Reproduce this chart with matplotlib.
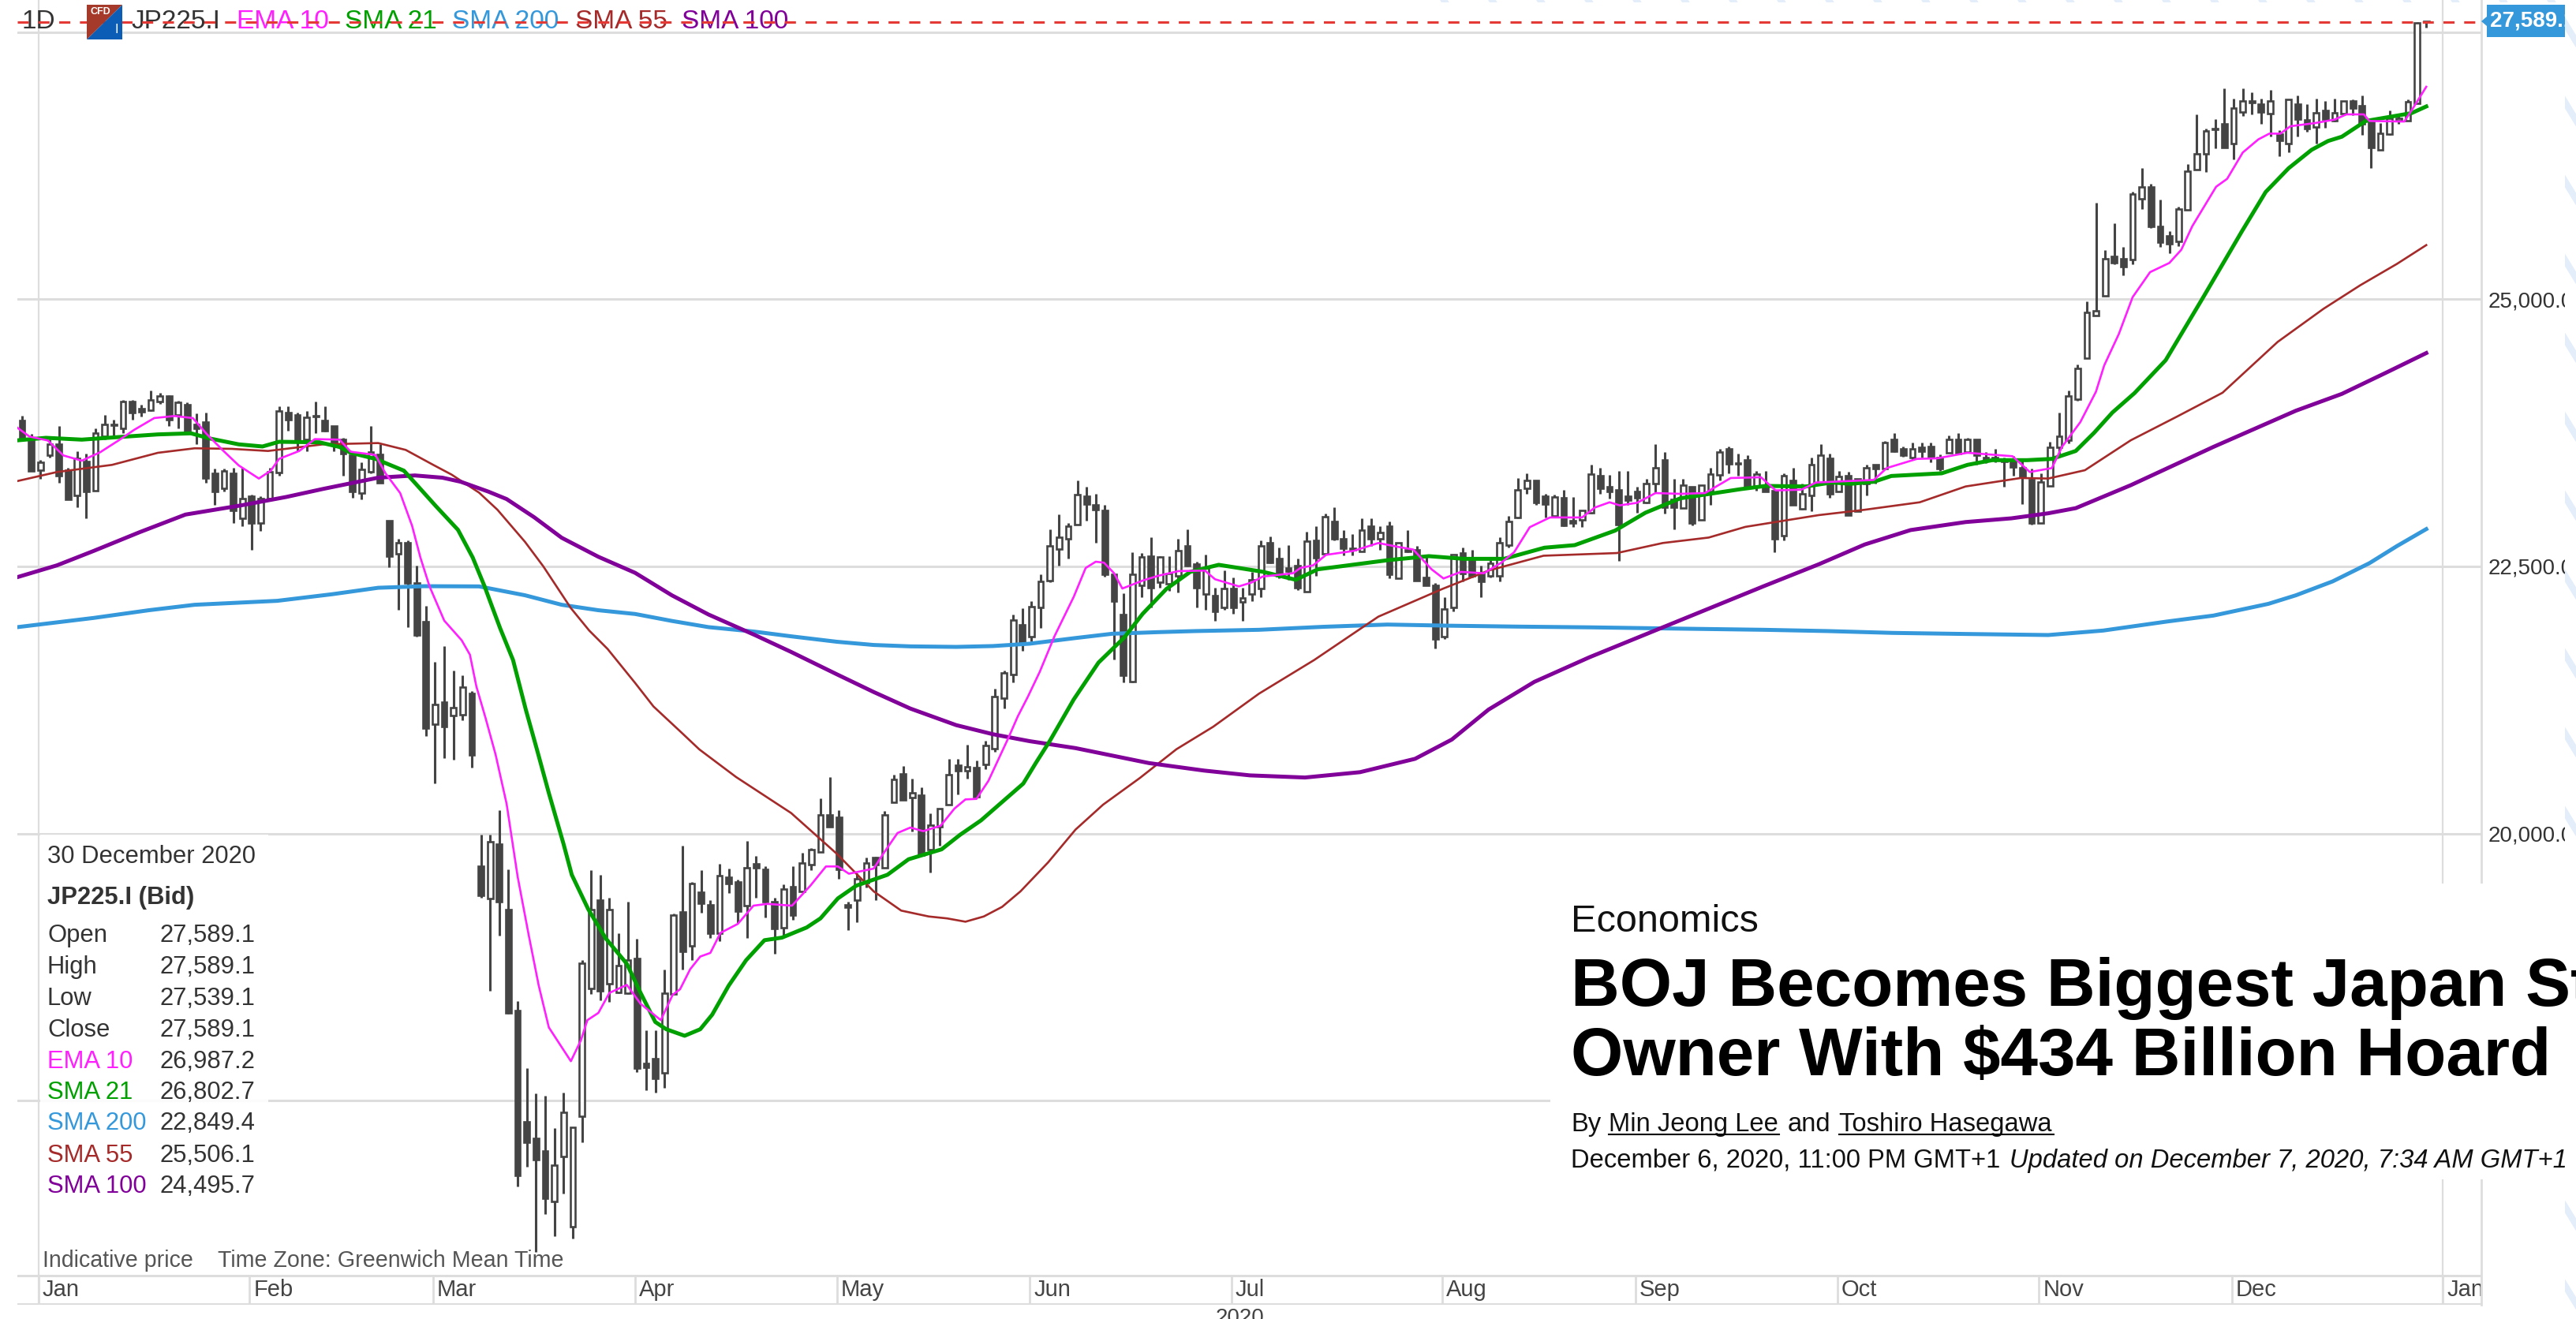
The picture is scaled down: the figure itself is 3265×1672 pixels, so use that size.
import matplotlib
matplotlib.use('Agg')
import matplotlib.pyplot as plt
from matplotlib.patches import Rectangle, Polygon
from matplotlib.transforms import ScaledTranslation

# candles run from 30 Dec 2019 (index -2) to 30 Dec 2020 (index 260), one per weekday
opens = [
    23868, 23691, 23400, 23538, 23642, 23400, 23162, 23482, 23211, 23715,
    23819, 23794, 24040, 23974, 23961, 24040, 24097, 23917, 24016, 23826,
    23851, 23371, 23228, 23371, 22953, 23155, 22909, 23137, 23376, 23937,
    23917, 23686, 23902, 23868, 23814, 23691, 23543, 23186, 23383, 23548,
    22928, 22621, 22719, 22343, 21981, 21022, 21231, 21108, 21113, 21310,
    19693, 19394, 19904, 19292, 18347, 17303, 17150, 17031, 16562, 16980,
    16324, 17354, 18551, 19377, 18595, 18517, 18510, 18833, 17847, 17891,
    17762, 18503, 19265, 18952, 19455, 19333, 19071, 19591, 19547, 19326,
    19717, 19666, 19360, 19122, 19503, 19462, 19707, 19829, 20176, 20156,
    19336, 19377, 19537, 19775, 19683, 20295, 20557, 20339, 20363, 19853,
    20062, 20271, 20640, 20586, 20616, 20645, 20793, 21268, 21489, 21957,
    21841, 22116, 22367, 22663, 22761, 22891, 23155, 23076, 23027, 22424,
    22047, 21420, 22326, 22596, 22350, 22338, 22412, 22695, 22522, 22239,
    22227, 22116, 22296, 22166, 22244, 22290, 22719, 22571, 22485, 22505,
    22264, 22744, 22621, 22923, 22756, 22670, 22638, 22879, 22761, 22879,
    22392, 22658, 22653, 22399, 22325, 21841, 22116, 22628, 22554, 22436,
    22412, 22412, 22702, 22958, 23228, 23302, 23154, 22972, 23142, 22928,
    22933, 23002, 23346, 23243, 23218, 23154, 23199, 23095, 23273, 23494,
    23125, 23046, 23243, 22933, 23199, 23359, 23597, 23469, 23494, 23248,
    23248, 23211, 22785, 23302, 23039, 23162, 23285, 23514, 23204, 23346,
    23014, 23273, 23450, 23415, 23686, 23597, 23519, 23617, 23622, 23519,
    23563, 23686, 23573, 23686, 23519, 23499, 23506, 23506, 23425, 23309,
    22908, 23253, 23617, 23679, 24065, 24448, 24847, 25032, 25400, 25376,
    25369, 25942, 26052, 25678, 25590, 25541, 25836, 26212, 26360, 26589,
    26638, 26458, 26753, 26840, 26827, 26736, 26544, 26458, 26827, 26680,
    26613, 26766, 26672, 26736, 26852, 26808, 26662, 26397, 26544, 26667,
    26672, 26835, 27589,
]
highs = [
    23912, 23740, 23494, 23691, 23814, 23425, 23578, 23553, 23789, 23917,
    23875, 24060, 24055, 24011, 24146, 24126, 24102, 24048, 24035, 23932,
    23937, 23415, 23415, 23420, 23420, 23174, 23155, 23425, 23998, 23998,
    23937, 23956, 24040, 23998, 23814, 23703, 23556, 23474, 23814, 23646,
    22928, 22756, 22744, 22510, 22129, 21605, 21752, 21526, 21482, 21334,
    19989, 19989, 20217, 19666, 18435, 17803, 17572, 17551, 17245, 17575,
    17252, 18816, 19659, 19615, 19401, 19071, 19360, 19020, 18163, 18163,
    18731, 19251, 19887, 19547, 19659, 19377, 19717, 19673, 19571, 19928,
    19795, 19693, 19401, 19523, 19693, 19819, 19863, 20329, 20533, 20217,
    19360, 19632, 19775, 19785, 20210, 20550, 20635, 20517, 20431, 20193,
    20237, 20702, 20702, 20830, 20682, 20867, 21354, 21526, 22048, 22109,
    22178, 22424, 22847, 22990, 22904, 23302, 23243, 23179, 23076, 22424,
    22252, 22633, 22628, 22776, 22596, 22596, 22756, 22847, 22547, 22608,
    22301, 22466, 22399, 22301, 22448, 22744, 22781, 22677, 22702, 22571,
    22825, 22879, 22997, 23051, 22842, 22800, 22948, 22948, 22874, 22923,
    22719, 22842, 22695, 22608, 22343, 22210, 22608, 22675, 22658, 22510,
    22559, 22776, 22972, 23327, 23371, 23302, 23179, 23174, 23218, 23150,
    23027, 23450, 23425, 23359, 23391, 23391, 23243, 23317, 23642, 23573,
    23322, 23322, 23248, 23260, 23425, 23597, 23622, 23555, 23538, 23396,
    23391, 23211, 23371, 23425, 23277, 23519, 23642, 23555, 23391, 23383,
    23322, 23450, 23450, 23671, 23745, 23622, 23661, 23661, 23661, 23548,
    23728, 23745, 23703, 23691, 23568, 23597, 23519, 23531, 23490, 23415,
    23371, 23666, 23937, 24146, 24392, 24982, 25905, 25462, 25713, 25487,
    26008, 26225, 26077, 25929, 25634, 25868, 26261, 26729, 26598, 26685,
    26975, 26877, 26975, 26933, 26877, 26955, 26581, 26869, 26908, 26827,
    26877, 26852, 26877, 26852, 26869, 26908, 26680, 26648, 26766, 26722,
    26869, 27590, 27589,
]
lows = [
    23691, 23396, 23322, 23519, 23285, 23125, 23056, 22953, 23211, 23691,
    23728, 23745, 23875, 23900, 23956, 24023, 23814, 23794, 23740, 23646,
    23285, 23076, 23199, 22909, 22874, 22658, 22830, 23130, 23351, 23770,
    23580, 23580, 23745, 23760, 23580, 23351, 23145, 23125, 23371, 23285,
    22490, 22092, 21932, 21841, 20916, 20473, 20709, 20690, 21063, 20621,
    19401, 18527, 19047, 18316, 16701, 16885, 16089, 16443, 16232, 16633,
    16215, 17116, 18503, 18442, 18425, 18510, 18500, 17769, 17599, 17575,
    17619, 18503, 18731, 18816, 19258, 19027, 18993, 19445, 19163, 19027,
    19401, 19217, 18877, 19037, 19197, 19455, 19659, 19829, 20067, 19581,
    19095, 19173, 19496, 19377, 19683, 20295, 20312, 20023, 19802, 19639,
    19890, 20271, 20370, 20517, 20345, 20603, 20768, 21169, 21415, 21710,
    21802, 21925, 22350, 22510, 22576, 22891, 22928, 22724, 22407, 21629,
    21415, 21415, 22215, 22116, 22301, 22270, 22259, 22498, 22116, 22092,
    21988, 22092, 22055, 21988, 22178, 22215, 22530, 22387, 22375, 22276,
    22264, 22412, 22621, 22744, 22603, 22603, 22638, 22695, 22658, 22387,
    22392, 22633, 22367, 22325, 21735, 21821, 22079, 22362, 22399, 22215,
    22399, 22362, 22677, 22953, 23179, 23076, 22958, 22958, 22874, 22867,
    22867, 22997, 23179, 23137, 22554, 23076, 23002, 23088, 23194, 22997,
    22849, 23046, 22884, 22933, 23076, 23302, 23371, 23351, 23243, 23211,
    23204, 22633, 22744, 23076, 23032, 23014, 23285, 23145, 23204, 22977,
    23014, 23162, 23273, 23415, 23573, 23524, 23499, 23519, 23474, 23396,
    23563, 23548, 23563, 23450, 23464, 23474, 23248, 23346, 23081, 22891,
    22908, 23253, 23543, 23650, 24050, 24448, 24847, 25032, 25327, 25221,
    25327, 25843, 25664, 25492, 25433, 25499, 25836, 26212, 26188, 26409,
    26417, 26311, 26712, 26729, 26643, 26520, 26335, 26372, 26520, 26569,
    26458, 26606, 26662, 26722, 26722, 26540, 26230, 26397, 26540, 26643,
    26667, 26835, 27539,
]
closes = [
    23691, 23396, 23474, 23642, 23351, 23125, 23514, 23204, 23745, 23826,
    23831, 24040, 23942, 23949, 24060, 24097, 23875, 24035, 23765, 23794,
    23327, 23204, 23391, 23022, 23137, 22909, 23137, 23383, 23956, 23875,
    23666, 23893, 23912, 23770, 23642, 23556, 23204, 23408, 23568, 23285,
    22596, 22719, 22343, 21858, 20985, 21206, 21004, 21182, 21373, 20734,
    19421, 19921, 19367, 18323, 16803, 17116, 16953, 16589, 16895, 17395,
    17252, 18789, 19292, 18527, 19292, 18765, 18816, 17803, 17813, 17711,
    18510, 19241, 18901, 19530, 19350, 19071, 19608, 19530, 19275, 19683,
    19683, 19360, 19115, 19479, 19241, 19727, 19853, 20176, 20067, 19666,
    19309, 19581, 19727, 19707, 20176, 20509, 20312, 20380, 19802, 20081,
    20234, 20554, 20586, 20628, 20345, 20825, 21285, 21501, 21998, 21784,
    22126, 22357, 22695, 22776, 22879, 23174, 23081, 23032, 22424, 22178,
    21482, 22424, 22589, 22301, 22589, 22436, 22650, 22510, 22301, 22485,
    22080, 22294, 22116, 22202, 22375, 22695, 22535, 22412, 22456, 22301,
    22736, 22579, 22965, 22756, 22670, 22653, 22842, 22756, 22817, 22424,
    22719, 22638, 22367, 22325, 21821, 22104, 22608, 22436, 22412, 22362,
    22530, 22719, 22923, 23218, 23302, 23100, 23081, 23150, 22884, 22909,
    23022, 23366, 23228, 23204, 22891, 23120, 23145, 23277, 23425, 23051,
    23056, 23260, 22908, 23260, 23366, 23573, 23457, 23457, 23243, 23366,
    23204, 22761, 23346, 23076, 23179, 23450, 23538, 23179, 23341, 22982,
    23322, 23425, 23415, 23661, 23580, 23538, 23597, 23580, 23519, 23415,
    23686, 23555, 23686, 23538, 23494, 23519, 23482, 23432, 23334, 22908,
    23292, 23617, 23715, 24097, 24355, 24877, 24891, 25376, 25344, 25302,
    25986, 26048, 25683, 25536, 25516, 25843, 26200, 26360, 26574, 26599,
    26417, 26786, 26852, 26852, 26753, 26852, 26483, 26869, 26687, 26594,
    26741, 26687, 26746, 26852, 26790, 26643, 26417, 26549, 26692, 26692,
    26844, 27583, 27589,
]

# moving averages, (index, price) at the places where they bend
ema10_x = [-2.5, -1, 1, 2.7, 4.7, 6.7, 8.7, 10.4, 12.6, 14.8, 16.8, 18.3, 20, 21.8, 24, 25.3, 26.2, 28.4, 30.1, 32.8,
           34, 36.7, 37.8, 39.4, 40.7, 41.6, 42.6, 44.2, 46.1, 47, 47.7, 48.7, 49.8, 51, 52.2, 53.4, 54.5, 55.6, 58, 59.1,
           59.8, 61, 62.2, 64.1, 65.6, 67.8, 69.1, 69.9, 71, 72.1, 73.2, 74.3, 76.2, 77.9, 79.4, 82.1, 84.1, 85.8, 87.1, 88.3,
           91, 92.1, 93.6, 95, 96.4, 98.3, 99.8, 101, 102.2, 103.5, 104.7, 105.7, 106.7, 107.8, 109.1, 110.7, 112.8, 114.1, 115.2, 116.1,
           117.2, 118.1, 120.3, 122, 124.2, 127.1, 128.2, 130.8, 132.2, 133.4, 136.7, 137.5, 138.9, 140.3, 143.3, 146, 148.2, 149.8, 151.8, 153.1,
           155, 157.5, 159.4, 160.8, 162.5, 164.7, 168.2, 169.6, 171.2, 172.3, 174.2, 176.2, 178.9, 181.6, 184.4, 187.7, 189.3, 192.1, 193.7, 200,
           201.4, 204.7, 206.9, 210.2, 215.1, 217, 219.4, 220.5, 222.5, 224.2, 225.1, 226.7, 228.2, 229.3, 230.1, 232.2, 233.5, 234.7, 236, 237.3,
           238.5, 240.2, 241.9, 243.1, 244.3, 245.4, 248.1, 250.2, 251.5, 253.4, 254, 257.8, 258.6, 260.2]
ema10_y = [23809, 23715, 23678, 23538, 23489, 23568, 23678, 23777, 23888, 23907, 23888, 23740, 23592, 23445, 23322, 23396, 23506, 23580, 23691, 23686,
           23573, 23543, 23371, 23186, 22879, 22584, 22313, 21993, 21809, 21674, 21378, 21083, 20739, 20278, 19598, 19054, 18578, 18187, 17871, 18068,
           18255, 18323, 18510, 18585, 18408, 18255, 18493, 18544, 18731, 18850, 18884, 19071, 19156, 19326, 19343, 19326, 19513, 19693, 19693, 19625,
           19673, 19819, 20006, 20057, 20023, 20074, 20234, 20320, 20325, 20493, 20714, 20899, 21096, 21280, 21514, 21846, 22215, 22485, 22544, 22535,
           22436, 22293, 22367, 22412, 22456, 22461, 22380, 22313, 22350, 22405, 22436, 22485, 22510, 22608, 22645, 22719, 22682, 22658, 22473, 22387,
           22449, 22436, 22535, 22633, 22867, 22958, 22958, 23051, 23100, 23071, 23095, 23186, 23179, 23186, 23327, 23334, 23211, 23218, 23285, 23309,
           23420, 23506, 23511, 23563, 23531, 23383, 23420, 23618, 23850, 24134, 24380, 24675, 25019, 25154, 25253, 25339, 25462, 25683, 25868, 26052,
           26126, 26372, 26495, 26549, 26549, 26618, 26648, 26680, 26729, 26729, 26667, 26662, 26766, 26987]

sma21_x = [-2.5, 0.8, 4.7, 8.7, 13, 16.6, 18.7, 21.8, 24.4, 26.2, 30.6, 32.8, 34, 36.7, 39.8, 41.1, 43.3, 45.7, 47.3, 48.6,
           49.3, 50.3, 51.7, 53.1, 54.3, 55.6, 57.2, 58.1, 59.9, 61.8, 64.1, 65.6, 67.2, 68.4, 70.4, 72.1, 73.4, 75.2, 77.1, 79.1,
           81, 83.7, 85.2, 87.1, 89.1, 92.5, 94.8, 98.4, 100.4, 102.7, 105, 107.3, 108.7, 110.2, 112.8, 115.5, 118.3, 120.3, 122.9, 125.5,
           128.6, 133.4, 137, 139.4, 147.1, 151.5, 155.3, 159.7, 164.1, 167.4, 171.8, 175.1, 178.9, 185.5, 188.2, 192.6, 195.4, 197.5, 200, 201.9,
           207.4, 210.2, 212.9, 216.7, 219.4, 222, 224, 226, 228.4, 231.8, 235.9, 240.1, 242.7, 245.2, 247.7, 249.5, 251, 253.6, 257, 258.6, 260.2]
sma21_y = [23678, 23703, 23686, 23710, 23735, 23745, 23696, 23642, 23622, 23666, 23661, 23617, 23563, 23506, 23396, 23273, 23063, 22842, 22584, 22313,
           22150, 21920, 21624, 21157, 20788, 20380, 19904, 19615, 19292, 19020, 18782, 18510, 18238, 18170, 18109, 18170, 18306, 18578, 18816, 19003,
           19027, 19122, 19207, 19394, 19513, 19615, 19760, 19853, 19988, 20124, 20296, 20468, 20665, 20868, 21255, 21600, 21834, 22055, 22289, 22449,
           22515, 22450, 22375, 22473, 22559, 22596, 22571, 22571, 22675, 22699, 22835, 23002, 23137, 23223, 23253, 23248, 23285, 23273, 23292, 23346,
           23371, 23450, 23494, 23494, 23506, 23580, 23750, 23940, 24121, 24429, 25019, 25634, 26003, 26225, 26397, 26480, 26520, 26667, 26717, 26741, 26803]

sma200_x = [-2.5, 6, 12, 17, 26, 32, 37, 42, 48, 53, 57, 61, 65, 69, 73, 78, 82, 87, 91, 95,
            100, 104, 108, 113, 117, 122, 126, 133, 140, 147, 154, 161, 169, 177, 188, 195, 202, 210, 219, 225,
            232, 237, 243, 246, 250, 254, 257, 260.2]
sma200_y = [21930, 22018, 22090, 22141, 22178, 22240, 22300, 22315, 22313, 22230, 22141, 22090, 22055, 21990, 21932, 21890, 21846, 21795, 21765, 21752,
            21747, 21755, 21777, 21830, 21870, 21885, 21895, 21907, 21935, 21956, 21945, 21937, 21930, 21920, 21907, 21895, 21878, 21868, 21858, 21900,
            21985, 22040, 22150, 22230, 22360, 22530, 22690, 22849]

sma55_x = [-2.5, 2, 8, 13, 17, 21, 25, 31, 37, 40, 43, 45, 48, 50, 53, 55, 58, 60, 62, 65,
           67, 70, 72, 76, 82, 87, 91, 94, 97, 99, 101, 103, 105, 107, 110, 113, 116, 120, 124, 128,
           133, 139, 146, 153, 158, 164, 172, 177, 182, 186, 194, 199, 205, 210, 216, 219, 223, 228, 233, 238,
           244, 249, 253, 257, 260.2]
sma55_y = [23295, 23383, 23450, 23563, 23605, 23600, 23580, 23642, 23654, 23590, 23450, 23359, 23190, 23030, 22730, 22500, 22110, 21900, 21728, 21410,
           21190, 20950, 20788, 20530, 20193, 19810, 19460, 19280, 19225, 19207, 19176, 19225, 19315, 19460, 19730, 20038, 20271, 20520, 20790, 21000,
           21310, 21624, 22030, 22290, 22461, 22600, 22625, 22719, 22770, 22870, 22980, 23030, 23100, 23248, 23327, 23322, 23400, 23680, 23900, 24125,
           24600, 24910, 25130, 25330, 25506]

sma100_x = [-2.5, 2, 6, 11, 16, 22, 27, 31, 37, 41, 44, 46, 49, 51, 54, 57, 61, 65, 69, 73,
            78, 82, 87, 91, 95, 100, 104, 108, 113, 121, 127, 132, 138, 144, 150, 154, 158, 163, 169, 173,
            177, 183, 188, 194, 199, 204, 210, 215, 219, 222, 228, 237, 246, 251, 256, 260.2]
sma100_y = [22395, 22510, 22645, 22820, 22985, 23070, 23150, 23225, 23330, 23351, 23330, 23292, 23200, 23130, 22960, 22768, 22590, 22440, 22230, 22050,
            21860, 21700, 21490, 21325, 21170, 21015, 20930, 20865, 20800, 20660, 20590, 20545, 20525, 20575, 20700, 20880, 21160, 21420, 21650, 21790,
            21930, 22140, 22315, 22520, 22705, 22840, 22915, 22950, 22997, 23045, 23260, 23618, 23957, 24114, 24320, 24496]

month_idx = [0, 23, 43, 65, 87, 108, 130, 153, 174, 196, 218, 239, 262]
month_labels = ['Jan', 'Feb', 'Mar', 'Apr', 'May', 'Jun', 'Jul', 'Aug', 'Sep', 'Oct', 'Nov', 'Dec', 'Jan']
price_ticks = [17500, 20000, 22500, 25000, 27500]
# the 17,500 and 27,500 labels are hidden behind the article and the price tag
price_labels = ['', '20,000.0', '22,500.0', '25,000.0', '']
last_price = 27589.1

panel_labels = ['Open', 'High', 'Low', 'Close', 'EMA 10', 'SMA 21', 'SMA 200', 'SMA 55', 'SMA 100']
panel_values = ['27,589.1', '27,589.1', '27,539.1', '27,589.1', '26,987.2', '26,802.7', '22,849.4', '25,506.1', '24,495.7']

C_EMA10 = '#FF1FFF'
C_SMA21 = '#00A000'
C_SMA200 = '#3498DB'
C_SMA55 = '#A52A2A'
C_SMA100 = '#800099'
C_CANDLE = '#444444'
C_GRID = '#DDDDDD'

W, H = 3265, 1672
plt.rcParams['font.family'] = ['Liberation Sans', 'DejaVu Sans']
fig = plt.figure(figsize=(W / 100, H / 100), dpi=100, facecolor='white')

# main chart, the band with the months sits inside the axes
ax = fig.add_axes([22 / W, 1 - 1654 / H, (3145 - 22) / W, 1654 / H])
ax.set_xlim(-2.32, 266.2)
ax.set_ylim(15592, 27799)
for s in ['top', 'left', 'bottom']:
    ax.spines[s].set_visible(False)
ax.spines['right'].set_color(C_GRID)
ax.spines['right'].set_linewidth(2)
ax.set_axisbelow(True)
ax.grid(axis='y', color=C_GRID, lw=2.2)
ax.yaxis.tick_right()
ax.set_yticks(price_ticks, price_labels)
ax.tick_params(axis='y', length=0, pad=6, labelsize=20, labelcolor='#333333')
ax.set_xticks(month_idx, month_labels, ha='left')
ax.tick_params(axis='x', length=0, pad=-24, labelsize=21, labelcolor='#444444')
for lab in ax.get_xticklabels():
    lab.set_transform(lab.get_transform() + ScaledTranslation(5 / 100, 0, fig.dpi_scale_trans))

# year line, month band and the two January lines
band_top = 22500 + (718 - 1617) * 7.38
ax.axhline(band_top, color=C_GRID, lw=2.2, zorder=1)
ax.axhline(15600, color=C_GRID, lw=2.2, zorder=1)
ax.vlines(month_idx, 15592, band_top, color=C_GRID, lw=2, zorder=1)
ax.axvline(0, color=C_GRID, lw=1.6, zorder=1)
ax.axvline(262, color=C_GRID, lw=1.6, zorder=1)

# candles, index offset is where the picture puts them against the grid
xs = [i - 2 + 0.2 for i in range(len(opens))]
ax.vlines(xs, lows, highs, color=C_CANDLE, lw=2.2, zorder=3)
for x, o, c in zip(xs, opens, closes):
    up = c >= o
    ax.bar(x, max(abs(c - o), 8), bottom=min(o, c), width=0.58,
           facecolor='white' if up else C_CANDLE, edgecolor=C_CANDLE, linewidth=1.9, zorder=4)

ax.plot(sma200_x, sma200_y, color=C_SMA200, lw=3.6, zorder=5)
ax.plot(sma55_x, sma55_y, color=C_SMA55, lw=1.9, zorder=5)
ax.plot(sma100_x, sma100_y, color=C_SMA100, lw=3.6, zorder=5)
ax.plot(sma21_x, sma21_y, color=C_SMA21, lw=3.6, zorder=6)
ax.plot(ema10_x, ema10_y, color=C_EMA10, lw=1.9, zorder=6)

# overlay in picture pixels for the panels stuck on top of the chart
ov = fig.add_axes([0, 0, 1, 1], zorder=10)
ov.set_xlim(0, W)
ov.set_ylim(H, 0)
ov.axis('off')

# top left titles, the dashed last price line runs over them
ax.text(28, 27, '1D', transform=ov.transData, fontsize=24, color='#333333', va='center', zorder=2)
ax.text(166, 27, 'JP225.I', transform=ov.transData, fontsize=24, color='#333333', va='center', zorder=2)
ax.text(300, 27, 'EMA 10', transform=ov.transData, fontsize=24, color=C_EMA10, va='center', zorder=2)
ax.text(437, 27, 'SMA 21', transform=ov.transData, fontsize=24, color=C_SMA21, va='center', zorder=2)
ax.text(573, 27, 'SMA 200', transform=ov.transData, fontsize=24, color=C_SMA200, va='center', zorder=2)
ax.text(729, 27, 'SMA 55', transform=ov.transData, fontsize=24, color=C_SMA55, va='center', zorder=2)
ax.text(864, 27, 'SMA 100', transform=ov.transData, fontsize=24, color=C_SMA100, va='center', zorder=2)
ax.axhline(last_price, color='#E53935', lw=2.2, dashes=(4.6, 4), zorder=7)

# CFD badge
ov.add_patch(Polygon([(110, 6), (155, 6), (110, 50)], closed=True, facecolor='#A63A2A', lw=0))
ov.add_patch(Polygon([(155, 6), (155, 50), (110, 50)], closed=True, facecolor='#0B5DB5', lw=0))
ov.text(127, 15, 'CFD', fontsize=9, color='white', weight='bold', ha='center', va='center')
ov.text(148, 38, 'I', fontsize=12, color='white', ha='center', va='center')

# last price tag
ov.add_patch(Rectangle((3152, 6), 99, 41, facecolor=C_SMA200, lw=0))
ov.add_patch(Polygon([(3145, 27), (3152, 21), (3152, 33)], closed=True, facecolor=C_SMA200, lw=0))
ov.text(3156, 27, '27,589.1', fontsize=20, color='white', weight='bold', va='center')

# right edge, labels are cut off there and the page background shows through
ov.add_patch(Rectangle((3251, 0), 14, H, facecolor='white', lw=0, zorder=3))
strip = Rectangle((3251, 0), 14, H, transform=ov.transData)
for k in range(-30, 60):
    ln, = ov.plot([k * 61, k * 61 + 1020], [0, 1672], color='#E3EEFA', lw=6, zorder=4)
    ln.set_clip_path(strip)
top_strip = Rectangle((0, 0), W, 3, transform=ov.transData)
for k in range(30, 60):
    ln, = ov.plot([k * 61, k * 61 + 1020], [0, 1672], color='#E3EEFA', lw=6, zorder=4)
    ln.set_clip_path(top_strip)

# values panel, lower left
ov.add_patch(Rectangle((51, 1058), 289, 552, facecolor='white', alpha=0.9, lw=0))
ov.text(60, 1086, '30 December 2020', fontsize=22.3, color='#333333', va='center')
ov.text(60, 1138, 'JP225.I (Bid)', fontsize=22.3, color='#333333', va='center', weight='bold')
panel_y = [1186, 1226, 1266, 1306, 1346, 1385, 1424, 1465, 1504]
panel_colors = ['#333333', '#333333', '#333333', '#333333', C_EMA10, C_SMA21, C_SMA200, C_SMA55, C_SMA100]
for y, lab, val, col in zip(panel_y, panel_labels, panel_values, panel_colors):
    ov.text(60, y, lab, fontsize=22.3, color=col, va='center')
    ov.text(323, y, val, fontsize=22.3, color='#333333', va='center', ha='right')
ov.text(54, 1598, 'Indicative price', fontsize=20.6, color='#555555', va='center')
ov.text(276, 1598, 'Time Zone: Greenwich Mean Time', fontsize=20.6, color='#555555', va='center')
ov.text(1572, 1671, '2020', fontsize=20, color='#444444', va='center', ha='center')

# article header pasted over the chart
ov.add_patch(Rectangle((1965, 1120), W - 1965, 375, facecolor='white', lw=0, zorder=5))
ov.text(1991, 1181, 'Economics', fontsize=35, color='#111111', va='baseline', zorder=6)
ov.text(1991, 1275, 'BOJ Becomes Biggest Japan St', fontsize=61.5, color='black', weight='bold',
        va='baseline', zorder=6)
ov.text(1991, 1363, 'Owner With $434 Billion Hoard', fontsize=61.5, color='black', weight='bold',
        va='baseline', zorder=6)
ov.text(1991, 1434, 'By', fontsize=23.6, color='#111111', va='baseline', zorder=6)
ov.text(2039, 1434, 'Min Jeong Lee', fontsize=23.6, color='#111111', va='baseline', zorder=6)
ov.text(2266, 1434, 'and', fontsize=23.6, color='#111111', va='baseline', zorder=6)
ov.text(2331, 1434, 'Toshiro Hasegawa', fontsize=23.6, color='#111111', va='baseline', zorder=6)
ov.plot([2039, 2255], [1438, 1438], color='black', lw=1.5, zorder=6)
ov.plot([2331, 2603], [1438, 1438], color='black', lw=1.5, zorder=6)
ov.text(1991, 1480, 'December 6, 2020, 11:00 PM GMT+1', fontsize=23.6, color='#111111', va='baseline', zorder=6)
ov.text(2547, 1480, 'Updated on December 7, 2020, 7:34 AM GMT+1', fontsize=23.6, color='#111111',
        style='italic', va='baseline', zorder=6)

fig.savefig('out.png', dpi=100)
plt.close(fig)
